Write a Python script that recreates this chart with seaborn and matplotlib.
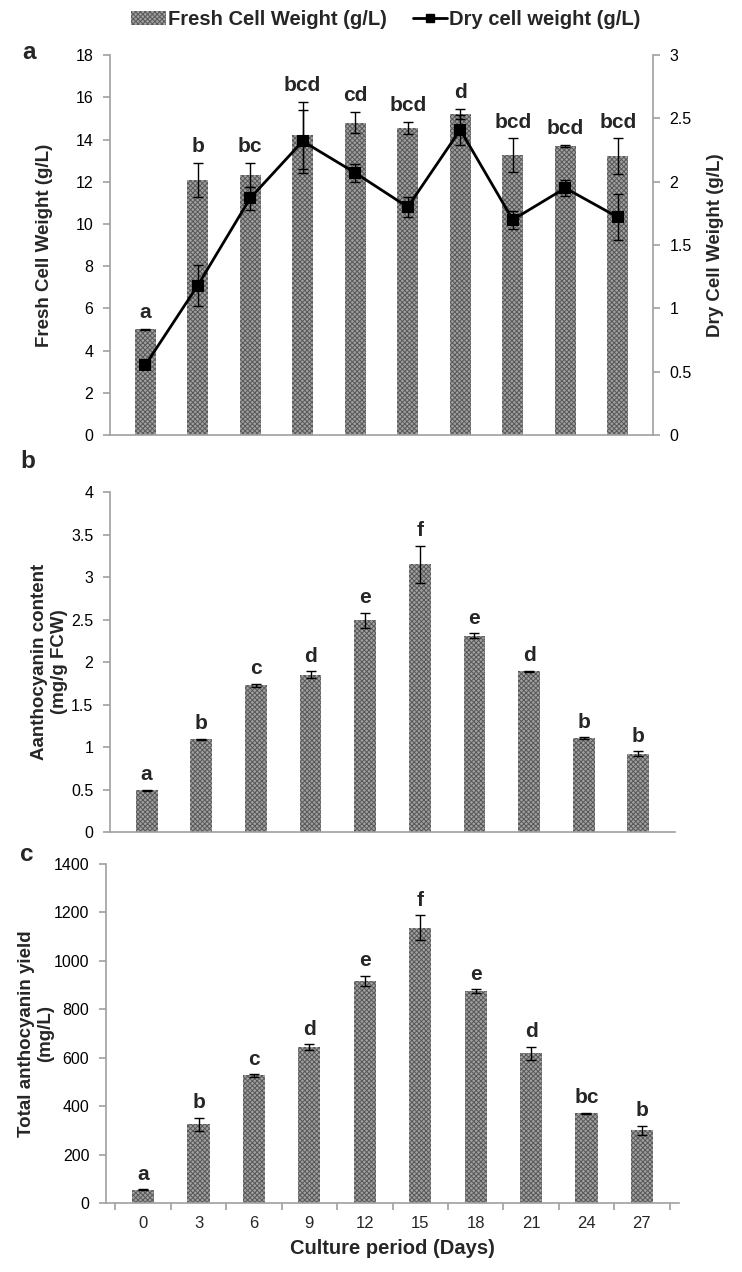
import pandas as pd
import seaborn as sns
import matplotlib
matplotlib.use("Agg")
import matplotlib.pyplot as plt
from matplotlib.patches import Patch
from matplotlib.lines import Line2D
from matplotlib.ticker import FuncFormatter, FixedLocator

days = [0, 3, 6, 9, 12, 15, 18, 21, 24, 27]

fresh_weight = [5.0, 12.1, 12.3, 14.2, 14.8, 14.55, 15.2, 13.25, 13.7, 13.2]
fresh_err = [0.03, 0.8, 0.57, 1.6, 0.5, 0.3, 0.25, 0.8, 0.05, 0.85]
fresh_letters = ["a", "b", "bc", "bcd", "cd", "bcd", "d", "bcd", "bcd", "bcd"]

dry_weight = [0.55, 1.18, 1.87, 2.32, 2.07, 1.80, 2.41, 1.70, 1.95, 1.72]
dry_err = [0.02, 0.16, 0.09, 0.25, 0.07, 0.08, 0.12, 0.07, 0.06, 0.18]

anthocyanin = [0.49, 1.09, 1.725, 1.85, 2.49, 3.15, 2.31, 1.89, 1.105, 0.92]
anthocyanin_err = [0.01, 0.01, 0.02, 0.04, 0.09, 0.22, 0.03, 0.01, 0.01, 0.03]
anthocyanin_letters = ["a", "b", "c", "d", "e", "f", "e", "d", "b", "b"]

yield_total = [55, 325, 527, 645, 917, 1137, 875, 619, 371, 300]
yield_err = [2, 27, 5, 11, 22, 51, 8, 27, 2, 19]
yield_letters = ["a", "b", "c", "d", "e", "f", "e", "d", "bc", "b"]

sns.set_style("ticks")
plt.rcParams["font.family"] = ["Liberation Sans", "DejaVu Sans"]
plt.rcParams["hatch.linewidth"] = 0.7

BAR_FACE = "#a0a0a0"
HATCH_COL = "#585858"
SPINE = "#a0a0a0"
HATCH = "xxxxxxx"

df = pd.DataFrame({"day": [str(d) for d in days],
                   "fresh": fresh_weight, "dry": dry_weight,
                   "antho": anthocyanin, "yield": yield_total})

fig = plt.figure(figsize=(7.42, 12.72), dpi=100)
ax_a = fig.add_axes([0.1482, 0.6580, 0.7318, 0.2987])
ax_b = fig.add_axes([0.1482, 0.3459, 0.7615, 0.2673])
ax_c = fig.add_axes([0.1429, 0.0542, 0.7722, 0.2665])

fmt = FuncFormatter(lambda v, p: "{:g}".format(v))


def style_y(ax, side):
    ax.tick_params(axis="y", colors=SPINE, labelcolor="black", labelsize=11.5,
                   length=5, width=1.2, pad=7)
    ax.spines[side].set_color(SPINE)
    ax.spines[side].set_linewidth(1.2)


def bar_panel(ax, col, err, letters, ymax, step, offset=4):
    sns.barplot(data=df, x="day", y=col, ax=ax, width=0.4, color=BAR_FACE,
                errorbar=None, saturation=1)
    for p in ax.patches:
        p.set_hatch(HATCH)
        p.set_edgecolor(HATCH_COL)
        p.set_linewidth(0)
    xs = list(range(len(days)))
    ax.errorbar(xs, df[col], yerr=err, fmt="none", ecolor="black",
                elinewidth=1, capsize=3.5, capthick=1, zorder=3)
    for i, (v, e, t) in enumerate(zip(df[col], err, letters)):
        ax.annotate(t, (i, v + e), xytext=(0, offset), textcoords="offset points",
                    ha="center", va="bottom", fontsize=15, fontweight="bold")
    ax.set_ylim(0, ymax)
    ax.set_yticks([k * step for k in range(int(round(ymax / step)) + 1)])
    ax.yaxis.set_major_formatter(fmt)
    ax.set_xlabel("")
    for s in ["top", "right"]:
        ax.spines[s].set_visible(False)
    style_y(ax, "left")
    ax.spines["bottom"].set_color(SPINE)
    ax.spines["bottom"].set_linewidth(1.2)
    ax.tick_params(axis="x", length=0, labelbottom=False)


# panel a
bar_panel(ax_a, "fresh", fresh_err, fresh_letters, 18, 2, offset=5)
ax_a.set_ylabel("Fresh Cell Weight (g/L)", fontsize=13.5, fontweight="bold")
ax_a.yaxis.set_label_coords(-0.105, 0.5)

ax_a2 = ax_a.twinx()
sns.pointplot(data=df, x="day", y="dry", ax=ax_a2, color="black", markers="s",
              linestyles="-", errorbar=None, markersize=7, linewidth=2)
ax_a2.errorbar(list(range(len(days))), df["dry"], yerr=dry_err, fmt="none",
               ecolor="black", elinewidth=1, capsize=3.5, capthick=1, zorder=4)
ax_a2.set_ylim(0, 3)
ax_a2.set_yticks([0, 0.5, 1, 1.5, 2, 2.5, 3])
ax_a2.yaxis.set_major_formatter(fmt)
ax_a2.set_ylabel("Dry Cell Weight (g/L)", fontsize=13.5, fontweight="bold")
ax_a2.yaxis.set_label_coords(1.10, 0.5)
for s in ["top", "left", "bottom"]:
    ax_a2.spines[s].set_visible(False)
style_y(ax_a2, "right")
ax_a2.set_xlabel("")
ax_a2.tick_params(axis="x", length=0, labelbottom=False)

# panel b
bar_panel(ax_b, "antho", anthocyanin_err, anthocyanin_letters, 4, 0.5)
ax_b.set_ylabel("Aanthocyanin content\n(mg/g FCW)", fontsize=13.5,
                fontweight="bold")
ax_b.yaxis.set_label_coords(-0.075, 0.5)

# panel c
bar_panel(ax_c, "yield", yield_err, yield_letters, 1400, 200)
ax_c.set_ylabel("Total anthocyanin yield\n(mg/L)", fontsize=13.5,
                fontweight="bold")
ax_c.yaxis.set_label_coords(-0.09, 0.5)
ax_c.tick_params(axis="x", length=0, labelbottom=True, labelsize=12, pad=9)
ax_c.xaxis.set_minor_locator(FixedLocator([i - 0.5 for i in range(len(days) + 1)]))
ax_c.tick_params(axis="x", which="minor", length=5, width=1.2, color=SPINE)
ax_c.set_xlabel("Culture period (Days)", fontsize=14.5, fontweight="bold")
ax_c.xaxis.set_label_coords(0.5, -0.105)

# panel letters
fig.text(0.030, 0.959, "a", fontsize=17.5, fontweight="bold", va="center")
fig.text(0.027, 0.637, "b", fontsize=17.5, fontweight="bold", va="center")
fig.text(0.027, 0.328, "c", fontsize=17.5, fontweight="bold", va="center")

handles = [Patch(facecolor=BAR_FACE, edgecolor=HATCH_COL, hatch=HATCH,
                 linewidth=0),
           Line2D([0], [0], color="black", lw=2, marker="s", markersize=6)]
fig.legend(handles, ["Fresh Cell Weight (g/L)", "Dry cell weight (g/L)"],
           loc="upper center", bbox_to_anchor=(0.52, 1.006), ncol=2,
           frameon=False, prop={"weight": "bold", "size": 14.5},
           handlelength=1.7, handletextpad=0.1, columnspacing=1.3)

fig.savefig("out.png", dpi=100)
